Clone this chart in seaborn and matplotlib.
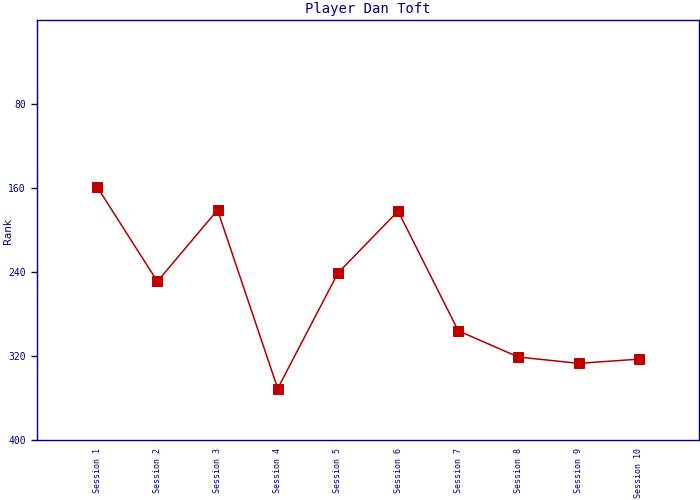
import matplotlib
matplotlib.use("Agg")
import matplotlib.pyplot as plt
import seaborn as sns
import pandas as pd

sessions = ["Session 1", "Session 2", "Session 3", "Session 4", "Session 5",
            "Session 6", "Session 7", "Session 8", "Session 9", "Session 10"]
ranks = [159, 249, 181, 351, 241, 182, 296, 321, 327, 323]
y_ticks = [80, 160, 240, 320, 400]

sns.set_style("white")
navy = "#000080"

df = pd.DataFrame({"pos": range(1, len(sessions) + 1), "rank": ranks})

fig = plt.figure(figsize=(7, 5), dpi=100)
ax = fig.add_axes([37 / 700, 60 / 500, 662 / 700, 420 / 500])

sns.lineplot(data=df, x="pos", y="rank", ax=ax, color="#b00000", linewidth=1.1,
             marker="s", markersize=7.2, markerfacecolor="#c00000",
             markeredgecolor="#c00000", sort=False)

ax.set_xlim(0, len(sessions) + 1)
ax.set_ylim(400, 0)
ax.set_yticks(y_ticks)
ax.set_yticklabels([str(t) for t in y_ticks], fontsize=7, family="DejaVu Sans Mono", color=navy)
ax.set_xticks(list(df["pos"]))
ax.set_xticklabels(sessions, rotation=90, fontsize=6, family="DejaVu Sans Mono", color=navy)
ax.tick_params(axis="x", length=0, pad=6)
ax.tick_params(axis="y", length=4, width=1, color=navy, direction="out", left=True, pad=4)

for s in ax.spines.values():
    s.set_color(navy)
    s.set_linewidth(1)
    s.set_visible(True)

ax.set_xlabel("")
ax.set_ylabel("")
fig.text(8 / 700, 1 - 231 / 500, "Rank", rotation=90, ha="center", va="center",
         fontsize=7.5, color=navy)
ax.set_title("Player Dan Toft", fontsize=10, family="DejaVu Sans Mono", color=navy, pad=5)

fig.savefig("out.png", dpi=100)
